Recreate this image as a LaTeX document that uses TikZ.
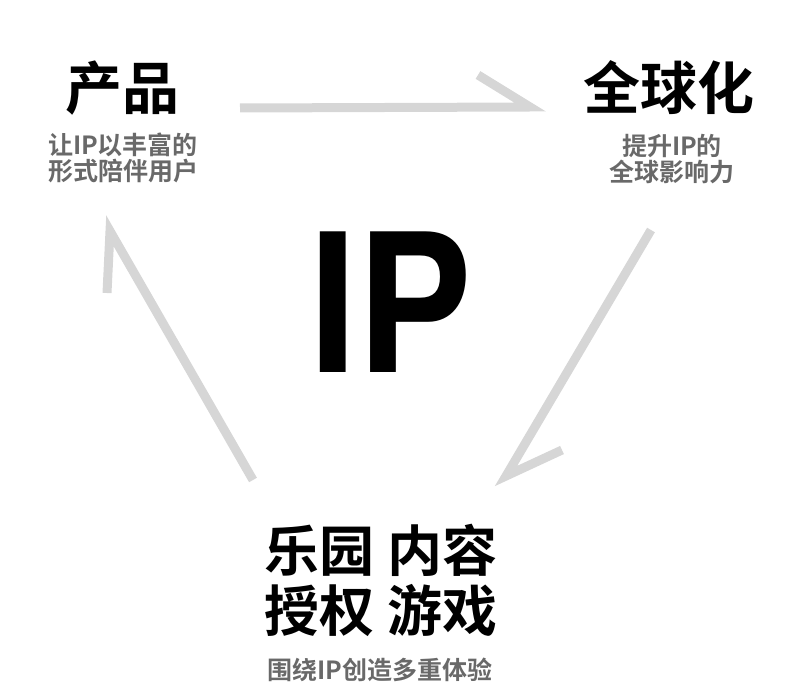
\documentclass[tikz,border=0pt]{standalone}
\usepackage{fontspec}
\setmainfont{Noto Sans CJK SC}[BoldFont={Noto Sans CJK SC Bold}]
\newfontfamily\ipfont{TeX Gyre Heros}
\usepackage{tikz}
\definecolor{arrowgray}{RGB}{214,214,214}
\definecolor{subgray}{RGB}{105,105,105}
\tikzset{every node/.style={draw=none,inner sep=0pt,align=center},
  title/.style={font=\bfseries\fontsize{57}{60}\selectfont},
  sub/.style={font=\bfseries\fontsize{25}{25.5}\selectfont,text=subgray},
  arrowline/.style={draw=arrowgray,line width=9pt,line join=miter}}

\begin{document}
\begin{tikzpicture}[x=1pt,y=-1pt]
      \useasboundingbox (0,0) rectangle (800,687);
      \node[title] (product) at (122,88) {产品};
      \node[sub] (productsub) at (123,158) {让IP以丰富的\\形式陪伴用户};
      \node[title] (global) at (669,88) {全球化};
      \node[sub] (globalsub) at (672,159) {提升IP的\\全球影响力};
      \node[font=\bfseries\fontsize{55}{60}\selectfont] (content) at (381,580) {乐园 内容\\授权 游戏};
      \node[sub] (caption) at (380,670) {围绕IP创造多重体验};
      \node[font=\ipfont\bfseries\fontsize{193}{200}\selectfont,xscale=0.89] (ip) at (391,302) {IP};

      \coordinate (a1) at (240,108);
      \coordinate (a2) at (530,107);
      \coordinate (a3) at (478,75);
      \coordinate (b1) at (651,230);
      \coordinate (b2) at (506,476);
      \coordinate (b3) at (562,450);
      \coordinate (c1) at (253,480);
      \coordinate (c2) at (110,231);
      \coordinate (c3) at (107,293);

\foreach \a/\b/\c in {a1/a2/a3,b1/b2/b3,c1/c2/c3}
  \draw[arrowline] (\a) -- (\b) -- (\c);
    \end{tikzpicture}
\end{document}
